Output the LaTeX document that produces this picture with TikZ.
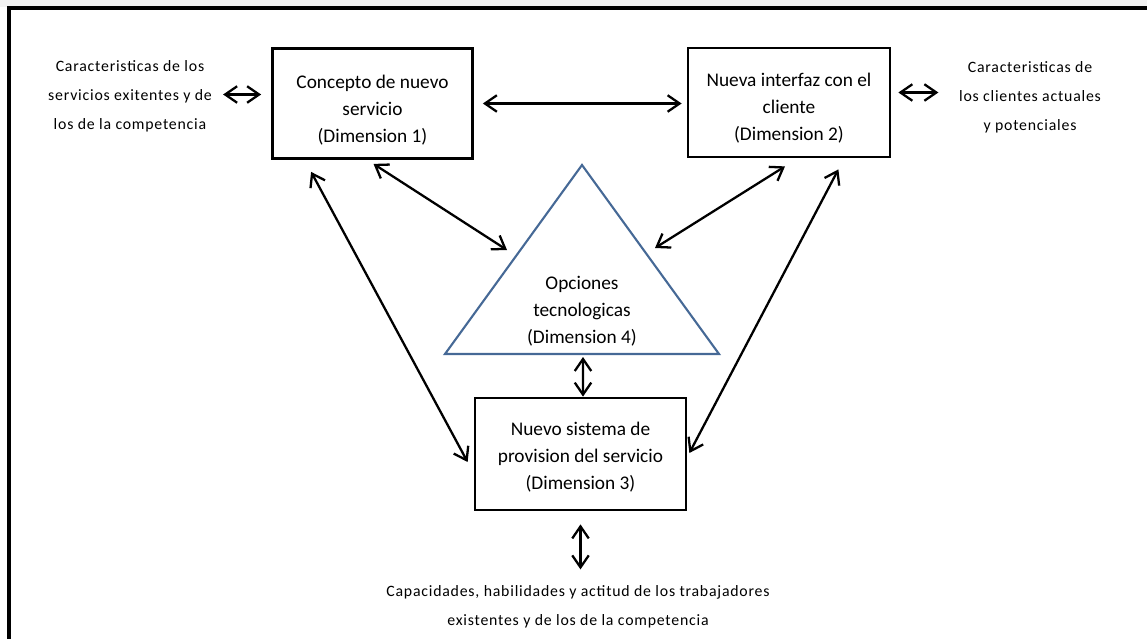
\documentclass[tikz,border=0pt]{standalone}
\usepackage{fontspec}
\setmainfont{Carlito}
\newfontfamily\sidefont[LetterSpace=5]{Carlito}
\usetikzlibrary{arrows.meta,calc}
\definecolor{triblue}{RGB}{70,105,150}
\newcommand{\dimgap}[1]{\rule{0pt}{#1}}
\tikzset{
  dimbox/.style={draw,line width=1.6pt,align=center,inner sep=0pt,
    font=\fontsize{11}{15.5}\selectfont},
  dimtext/.style={align=center,font=\fontsize{11}{15.5}\selectfont},
  sidetext/.style={align=center,font=\sidefont\fontsize{9}{16.5}\selectfont},
  conn/.style={<->,line width=1.3pt},
}
\begin{document}
\begin{tikzpicture}[x=0.02cm,y=-0.02cm,>={Straight Barb[length=2.4mm,width=3.3mm]}]
\useasboundingbox (0,0) rectangle (1147,639);
\fill[gray!10] (0,0) rectangle (1147,7);
\draw[line width=1.8pt] (9,639) -- (9,8) -- (1147,8);
% las cuatro dimensiones
\node[dimbox,minimum width=4cm,minimum height=2.2cm] (dim1) at (372.5,103.5)
	{\dimgap{15pt}Concepto de nuevo\\servicio\\(Dimension 1)};
\node[dimbox,minimum width=4.04cm,minimum height=2.18cm] (dim2) at (789,102.5)
	{\dimgap{14pt}Nueva interfaz con el\\cliente\\(Dimension 2)};
\node[dimbox,minimum width=4.22cm,minimum height=2.24cm] (dim3) at (580.5,454)
	{\dimgap{11pt}Nuevo sistema de\\provision del servicio\\(Dimension 3)};
\draw[triblue,line width=1.2pt] (582,165) -- (719,354) -- (445,354) -- cycle;
\node[dimtext] (dim4) at (582,311) {Opciones\\tecnologicas\\(Dimension 4)};
\coordinate (tri1) at (507,250);
\coordinate (tri2) at (655,248);
\coordinate (tri3) at (583,357);
% textos exteriores
\node[sidetext] (servicios) at (130,96)
	{Caracteristicas de los\\servicios exitentes y de\\los de la competencia};
\node[sidetext] (clientes) at (1030,97)
	{Caracteristicas de\\los clientes actuales\\y potenciales};
\node[sidetext] (trabajadores) at (578,607)
	{Capacidades, habilidades y actitud de los trabajadores\\existentes y de los de la competencia};
% conexiones
\draw[conn] ($(dim1.west)+(-48,-9)$) -- ($(dim1.west)+(-10,-9)$);
\draw[conn] ($(dim1.east)+(9,0)$) -- ($(dim2.west|-dim1.east)+(-5,0)$);
\draw[conn] ($(dim2.east)+(7,-10)$) -- ($(dim2.east)+(47,-10)$);
\draw[conn] ($(dim1.south)+(1,4)$) -- (tri1);
\draw[conn] ($(dim2.south)+(-4,8)$) -- (tri2);
\draw[conn] ($(dim1.south west)+(40,12)$) -- ($(dim3.west)+(-6,8)$);
\draw[conn] ($(dim2.south east)+(-53,11)$) -- ($(dim3.east)+(2,-1)$);
\draw[conn] (tri3) -- ($(dim3.north)+(2.5,0)$);
\draw[conn] ($(dim3.south)+(0,13)$) -- ($(dim3.south)+(0,58)$);
\end{tikzpicture}
\end{document}
